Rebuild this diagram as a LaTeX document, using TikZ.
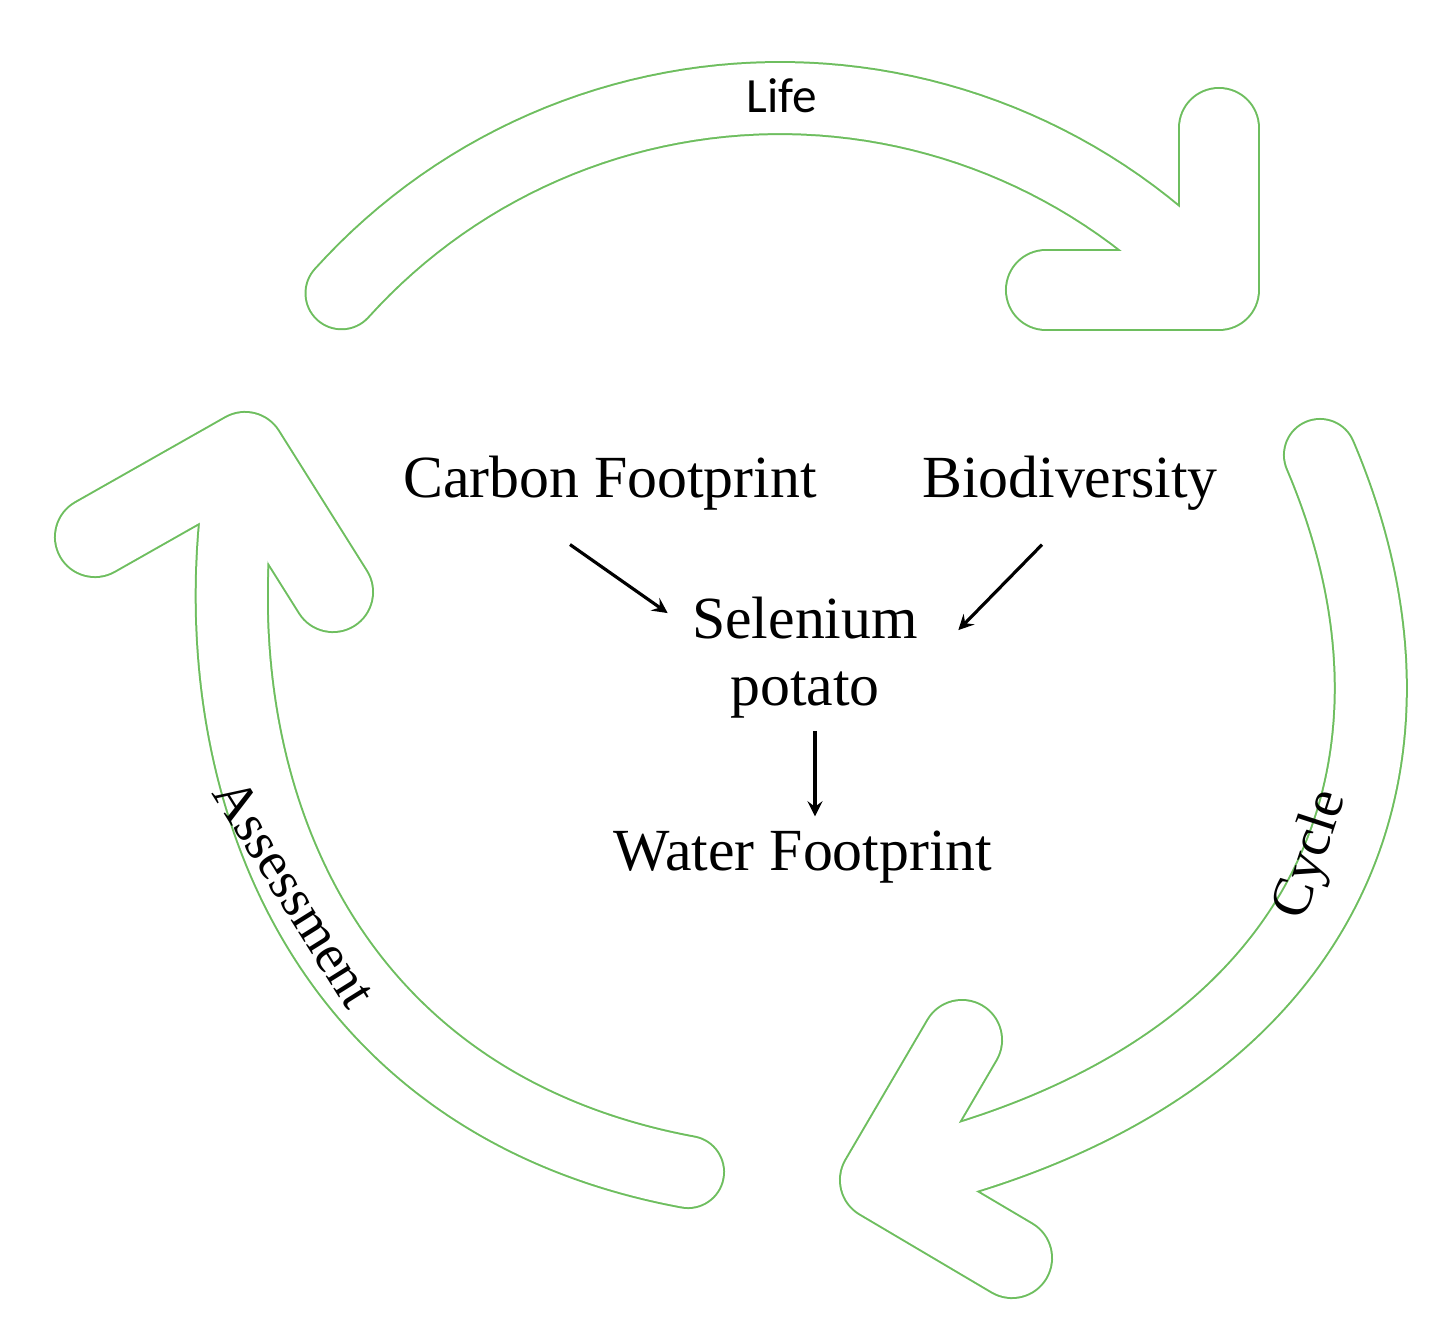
\documentclass[tikz,border=0pt]{standalone}
\usepackage{fontspec}
\setmainfont{Liberation Serif}
\newfontfamily\lifesans{Carlito}
\usetikzlibrary{calc}
\definecolor{lg}{RGB}{110,190,95}
\begin{document}
\begin{tikzpicture}[x=0.01cm,y=-0.01cm,
  bandg/.style={draw=lg,line width=0.82cm,line cap=round,line join=round},
  bandw/.style={draw=white,line width=0.78cm,line cap=round,line join=round},
  lab/.style={font=\fontsize{17}{19}\selectfont,align=center},
  conn/.style={-stealth,line width=0.9pt}]
\useasboundingbox (0,0) rectangle (1435,1338);
% paths
\def\toparc{plot[domain=138:42,samples=60] ({780+590*cos(\x)},{688-590*sin(\x)}) -- (1219,290)}
\def\topchev{(1219,128) -- (1219,290) -- (1046,290)}
\def\rightarc{(1320,455) .. controls (1450,760) and (1340,1080) .. (880,1180)}
\def\rightchev{(962,1040) -- (880,1180) -- (1012,1258)}
\def\leftarc{(688,1172) .. controls (300,1100) and (190,750) .. (245,452)}
\def\leftchev{(95,537) -- (245,452) -- (333,592)}
\path[bandg,line width=0.74cm] \toparc;
\path[bandg] \topchev;
\path[bandg,line width=0.74cm] \rightarc;
\path[bandg] \rightchev;
\path[bandg,line width=0.74cm] \leftarc;
\path[bandg] \leftchev;
\path[bandw,line width=0.70cm] \toparc;
\path[bandw] \topchev;
\path[bandw,line width=0.70cm] \rightarc;
\path[bandw] \rightchev;
\path[bandw,line width=0.70cm] \leftarc;
\path[bandw] \leftchev;
% labels
\node[font=\lifesans\fontsize{14}{16}\selectfont] (life) at (782,96) {Life};
\node[font=\fontsize{16}{18}\selectfont,rotate=72] (cycle) at (1312,855) {Cycle};
\node[font=\fontsize{15.5}{18}\selectfont,rotate=-58] (assess) at (295,893) {Assessment};
% center
\node[lab] (carbon) at (610,483) {Carbon Footprint};
\node[lab] (bio) at (1070,483) {Biodiversity};
\node[lab] (sel) at (805,658) {Selenium\\potato};
\node[lab] (water) at (803,857) {Water Footprint};
\draw[conn] ($(carbon.south)+(-40,22)$) -- ($(sel.north west)+(-12,28)$);
\draw[conn] ($(bio.south)+(-28,22)$) -- ($(sel.north east)+(28,45)$);
\draw[conn] ($(sel.south)+(10,0)$) -- ($(water.north)+(12,-2)$);
\end{tikzpicture}
\end{document}
